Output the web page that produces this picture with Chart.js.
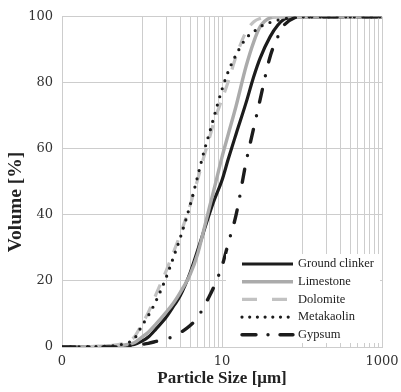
<!DOCTYPE html>
<html lang="en">
<head>
<meta charset="UTF-8">
<title>Particle size distribution</title>
<script src="https://cdn.jsdelivr.net/npm/chart.js"></script>
<style>
  html, body { margin: 0; padding: 0; background: #fff; }
  #wrap { width: 401px; height: 392px; }
</style>
</head>
<body>
<div id="wrap"><canvas id="psd" width="401" height="392"></canvas></div>
<script>
// particle size classes [µm] and cumulative volume [%] per material
const sizes = [0.1, 0.2, 0.4, 0.6, 0.8, 1, 1.2, 1.5, 2, 2.5, 3, 4, 5, 6, 7, 8, 10, 12, 15, 20, 25, 30, 40, 50, 60, 80, 100, 200, 500, 1000];
const groundClinker = [0, 0.1, 0.2, 0.4, 0.8, 1.8, 3, 5.5, 9, 12.5, 15.5, 22.5, 29.5, 35.5, 40.5, 44.5, 50.5, 57, 64.5, 74, 82, 87.5, 94, 97.5, 99.3, 100, 100, 100, 100, 100];
const limestone = [0, 0.1, 0.3, 0.6, 1.3, 3, 4.5, 7, 10.5, 13.5, 16.5, 22, 28.5, 36, 42.5, 48, 57.5, 64.5, 73, 85, 92.5, 97, 99.7, 100, 100, 100, 100, 100, 100, 100];
const dolomite = [0, 0.1, 0.4, 1.2, 3, 7, 10.5, 16, 23, 29, 34, 43, 51, 58, 63.5, 68.5, 75, 80.5, 88, 95.5, 98.5, 99.5, 100, 100, 100, 100, 100, 100, 100, 100];
const metakaolin = [0, 0.1, 0.3, 1, 2.5, 6.5, 9.5, 14, 21, 27.5, 33, 43, 52, 59.5, 65, 70, 78, 83.5, 88.5, 93.5, 95.5, 97, 98.3, 99, 99.4, 99.8, 100, 100, 100, 100];
const gypsum = [0, 0, 0, 0.2, 0.5, 0.8, 1.1, 1.7, 2.5, 3.2, 4.3, 6.5, 9, 12.5, 15.5, 18.5, 24.5, 31.5, 40, 56, 66.5, 75, 88, 94, 97.5, 99.7, 100, 100, 100, 100];

const seriesNames = ['Ground clinker', 'Limestone', 'Dolomite', 'Metakaolin', 'Gypsum'];

// x grid lines and the labels shown on them
const xGridValues = [0.1, 1, 2, 3, 4, 5, 6, 7, 8, 9, 10, 100, 200, 300, 400, 500, 600, 700, 800, 900, 1000];
const xTickLabels = { 0.1: '0', 10: '10', 1000: '1000' };
const yTicks = [0, 20, 40, 60, 80, 100];

const gridColor = '#cdcdcd';
const serif = "'DejaVu Serif', serif";
const lib = "'Liberation Serif', serif";

function series(values) {
  return sizes.map((s, i) => ({ x: s, y: values[i] }));
}

const datasets = [
  { label: seriesNames[0], data: series(groundClinker), borderColor: '#1c1c1c', borderWidth: 3.2, order: 5 },
  { label: seriesNames[1], data: series(limestone), borderColor: '#ababab', borderWidth: 3.4, order: 4 },
  { label: seriesNames[2], data: series(dolomite), borderColor: '#c2c2c2', borderWidth: 3.2, borderDash: [13, 11], legendDash: [15, 15], order: 3 },
  { label: seriesNames[3], data: series(metakaolin), borderColor: '#1c1c1c', borderWidth: 3.2, borderDash: [0, 8.5], borderCapStyle: 'round', legendDash: [0, 7.7], order: 2 },
  { label: seriesNames[4], data: series(gypsum), borderColor: '#1c1c1c', borderWidth: 3.4, borderDash: [13, 14, 0, 14], borderCapStyle: 'round', legendDash: [14, 12, 0, 12], order: 1 }
].map(d => Object.assign({ fill: false, pointRadius: 0, cubicInterpolationMode: 'monotone' }, d));

// legend box sitting in the lower right corner of the plot
const insideLegend = {
  id: 'insideLegend',
  afterDraw(chart) {
    const { ctx, chartArea } = chart;
    const left = chartArea.right - 156, top = chartArea.bottom - 93;
    ctx.save();
    ctx.fillStyle = '#fff';
    ctx.fillRect(left, top, 154, 89);
    ctx.font = "12.5px " + lib;
    ctx.textBaseline = 'middle';
    chart.data.datasets.forEach((ds, i) => {
      const y = top + 10 + i * 17.7;
      ctx.beginPath();
      ctx.strokeStyle = ds.borderColor;
      ctx.lineWidth = ds.borderWidth;
      ctx.lineCap = ds.borderCapStyle || 'butt';
      ctx.setLineDash(ds.legendDash || []);
      ctx.moveTo(left + 16, y);
      ctx.lineTo(left + 67, y);
      ctx.stroke();
      ctx.setLineDash([]);
      ctx.fillStyle = '#222';
      ctx.fillText(ds.label, left + 72, y);
    });
    ctx.restore();
  }
};

// rotated y-axis title
const yTitle = {
  id: 'yTitle',
  afterDraw(chart) {
    const { ctx } = chart;
    ctx.save();
    ctx.translate(16, 202);
    ctx.rotate(-Math.PI / 2);
    ctx.font = "bold 19.5px " + lib;
    ctx.fillStyle = '#222';
    ctx.textAlign = 'center';
    ctx.textBaseline = 'middle';
    ctx.fillText('Volume [%]', 0, 0);
    ctx.restore();
  }
};

new Chart(document.getElementById('psd'), {
  type: 'line',
  data: { datasets },
  plugins: [insideLegend, yTitle],
  options: {
    responsive: false,
    devicePixelRatio: 1,
    animation: false,
    layout: { padding: { left: 0, right: 19, top: 15, bottom: 0 } },
    plugins: { legend: { display: false }, tooltip: { enabled: false } },
    scales: {
      x: {
        type: 'logarithmic',
        min: 0.1,
        max: 1000,
        afterBuildTicks: scale => { scale.ticks = xGridValues.map(v => ({ value: v })); },
        afterFit: scale => {
          scale.height = 45;
          scale.paddingLeft = 0;
          scale.paddingRight = 0;
        },
        grid: { color: gridColor, drawTicks: false },
        border: { color: gridColor },
        ticks: {
          autoSkip: false,
          maxRotation: 0,
          padding: 7,
          color: '#333',
          font: { family: serif, size: 13 },
          callback: v => xTickLabels[v] || ''
        },
        title: {
          display: true,
          text: 'Particle Size [μm]',
          color: '#222',
          font: { family: lib, size: 17, weight: 'bold' },
          padding: { top: 0, bottom: 3 }
        }
      },
      y: {
        min: 0,
        max: 100,
        afterBuildTicks: scale => { scale.ticks = yTicks.map(v => ({ value: v })); },
        afterFit: scale => { scale.width = 62; },
        grid: { color: gridColor, drawTicks: false },
        border: { color: gridColor },
        ticks: {
          padding: 9,
          color: '#333',
          font: { family: serif, size: 13 }
        }
      }
    }
  }
});
</script>
</body>
</html>
